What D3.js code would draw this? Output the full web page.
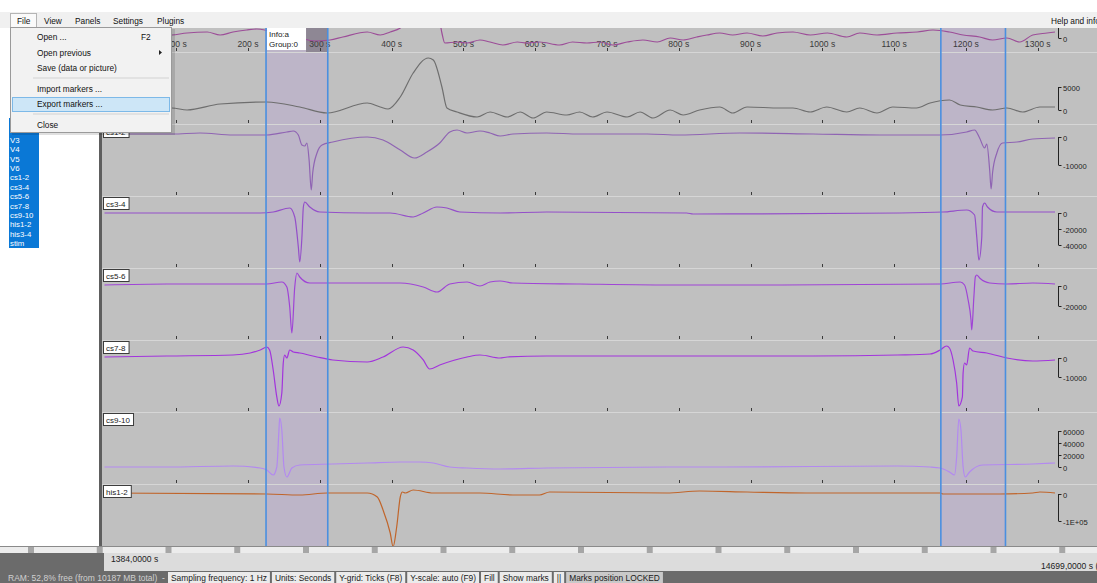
<!DOCTYPE html>
<html>
<head>
<meta charset="utf-8">
<script src="https://cdn.jsdelivr.net/npm/d3@7"></script>
<style>
html, body { margin: 0; padding: 0; background: #fff; overflow: hidden; }
svg { display: block; }
text { font-family: "Liberation Sans", Arial, sans-serif; }
</style>
</head>
<body>
<svg id="chart" width="1097" height="583"></svg>
<script>
// ---------- data: time in seconds, amplitude in channel units ----------
const timeTicks = [100, 200, 300, 400, 500, 600, 700, 800, 900, 1000, 1100, 1200, 1300];
const timeDomain = [0, 1324];
const markerSpans = [[225, 311], [1165, 1255]];
const markerInfo = ["Info:a", "Group:0"];

const channelNames = ["V5", "V6", "cs1-2", "cs3-4", "cs5-6", "cs7-8", "cs9-10", "his1-2"];

const v5 = [[0,600],[35,1000],[63,400],[94,600],[115,1000],[143,1200],[161,600],[179,1200],[198,1600],[212,1800],[230,1400],[251,800],[272,0],[293,-600],[314,-400],[332,200],[366,1200],[384,600],[398,1200],[412,2000],[429,4600],[451,7600],[466,4000],[470,1000],[474,-1000],[491,-800],[505,-1000],[523,-400],[537,-800],[555,-1400],[575,-800],[588,-1000],[606,-800],[634,-1400],[652,-800],[672,-1000],[690,-800],[708,-1400],[728,-800],[750,-400],[770,-800],[788,0],[806,-400],[825,200],[839,600],[857,1000],[875,600],[895,1000],[917,400],[937,1000],[959,1200],[983,600],[1007,1000],[1034,200],[1052,1000],[1076,600],[1104,1000],[1132,1200],[1154,1600],[1177,1200],[1196,600],[1219,200],[1237,-400],[1257,0],[1275,-800],[1293,600],[1313,1000],[1324,1200]];

const v6 = [[0,870],[35,1300],[63,430],[94,430],[115,0],[161,1300],[226,1740],[272,650],[310,-650],[366,1520],[384,650],[395,220],[412,2830],[430,8040],[451,11300],[458,10870],[470,5000],[477,430],[491,-430],[519,-1520],[537,-430],[561,-1520],[579,-430],[597,-1740],[616,-430],[644,-1090],[662,-430],[680,-1520],[700,-430],[728,-1520],[746,-430],[764,-1740],[788,0],[806,-1090],[829,0],[857,650],[875,-650],[895,650],[941,430],[959,430],[983,-430],[1006,650],[1034,-430],[1052,430],[1076,-650],[1098,650],[1131,430],[1150,1520],[1177,2170],[1192,1090],[1215,650],[1237,0],[1257,430],[1279,-430],[1303,650],[1324,650]];

const cs12 = [[0,1070],[95,1070],[133,1430],[179,710],[226,710],[254,1790],[263,2140],[270,710],[275,-2860],[279,-3210],[282,-2140],[285,-8210],[288,-18920],[290,-12850],[296,-5710],[303,-2860],[318,-1790],[366,0],[388,-1070],[412,-4640],[432,-7500],[449,-5360],[467,-2140],[481,1790],[491,2500],[505,1430],[523,2140],[537,1430],[551,360],[569,1070],[616,1430],[662,1070],[756,1070],[801,710],[885,1430],[987,1070],[1080,710],[1164,710],[1201,1790],[1212,2500],[1219,-360],[1226,-3930],[1229,-2500],[1233,-11780],[1235,-18560],[1237,-12850],[1243,-5710],[1251,-2140],[1271,-1790],[1293,-710],[1324,-360]];

const cs34 = [[0,0],[217,0],[235,1250],[258,6250],[265,-5000],[270,-42500],[272,-61250],[275,-30000],[277,7500],[279,13750],[286,7500],[300,1250],[366,0],[398,0],[430,-5000],[444,0],[463,7500],[477,6250],[495,1250],[551,0],[616,1250],[811,0],[820,-1250],[1108,0],[1168,1250],[1201,3750],[1212,-2500],[1215,-30000],[1218,-58750],[1222,-30000],[1223,7500],[1226,12500],[1230,7500],[1243,1250],[1324,1250]];

const cs56 = [[0,1000],[87,2000],[179,2000],[226,2000],[247,4000],[254,-1000],[258,-21000],[261,-47000],[265,-1000],[268,13000],[272,9000],[286,3000],[318,3000],[366,3000],[412,3000],[444,-1000],[463,-6000],[481,2000],[505,4000],[523,0],[537,4000],[551,5000],[569,3000],[662,2000],[801,1000],[941,1000],[1164,2000],[1192,4000],[1198,1000],[1203,-14000],[1207,-34000],[1208,-44000],[1211,-11000],[1213,9000],[1215,11000],[1219,8000],[1233,3000],[1257,2000],[1293,3000],[1324,2000]];

const cs78 = [[0,526],[87,1050],[179,1580],[203,2630],[217,4210],[226,5790],[230,4210],[235,-6310],[240,-20500],[243,-25250],[247,-18410],[249,-2630],[251,1580],[254,0],[258,4210],[263,3160],[272,2630],[296,526],[318,-1050],[366,-2100],[388,526],[416,5790],[430,4210],[444,-1050],[453,-5790],[467,-3680],[505,526],[523,1580],[551,0],[561,526],[616,1050],[801,1050],[987,1050],[1104,1580],[1150,2100],[1164,4210],[1173,6310],[1177,5260],[1182,-1050],[1187,-13150],[1190,-25250],[1195,-20500],[1196,-7890],[1198,-2630],[1201,-3680],[1205,5260],[1210,3680],[1229,2630],[1257,0],[1293,-1580],[1324,-1050]];

const cs910 = [[0,0],[87,0],[179,1670],[217,-1670],[226,-5000],[235,-13340],[240,0],[243,61680],[244,81680],[247,61680],[250,0],[254,-16670],[261,-1670],[272,3330],[318,5000],[366,6670],[412,8330],[439,8330],[458,6670],[481,0],[505,-1670],[551,-3330],[616,-1670],[783,0],[867,0],[1104,1670],[1150,0],[1164,-1670],[1177,-8330],[1184,-13340],[1187,16670],[1190,80000],[1193,61680],[1196,0],[1199,-16670],[1205,-8330],[1223,3330],[1293,5000],[1324,6670]];

const his12 = [[0,3700],[226,0],[272,-3700],[310,3700],[366,3700],[380,-11110],[388,-59260],[398,-144440],[402,-195000],[407,-122220],[412,-11110],[415,7410],[419,3700],[430,14810],[458,3700],[523,3700],[569,-3700],[606,-3700],[620,7410],[783,3700],[829,11110],[895,7410],[978,3700],[1164,3700],[1168,0],[1247,0],[1293,3700],[1303,7410],[1324,3700]];

const traces = [v5, v6, cs12, cs34, cs56, cs78, cs910, his12];

// visible amplitude window of each panel [bottom, top]
const valueRanges = [[-2800,11600],[-3043,12609],[-21063,4641],[-68750,21250],[-54000,18000],[-28404,9468],[-28339,91685],[-229648,37040]];
const scaleTicks = [[0,5000],[0,5000],[0,-10000],[0,-20000,-40000],[0,-20000],[0,-10000],[60000,40000,20000,0],[0,-100000]];
const scaleTickLabels = [["0","5000"],["0","5000"],["0","-10000"],["0","-20000","-40000"],["0","-20000"],["0","-10000"],["60000","40000","20000","0"],["0","-1E+05"]];

const listNames = ["V3","V4","V5","V6","cs1-2","cs3-4","cs5-6","cs7-8","cs9-10","his1-2","his3-4","stim"];
const menuBar = ["File","View","Panels","Settings","Plugins"];
const fileMenu = [
  {label:"Open ...", key:"F2"},
  {label:"Open previous", sub:true},
  {label:"Save (data or picture)"},
  {sep:true},
  {label:"Import markers ..."},
  {label:"Export markers ...", hot:true},
  {sep:true},
  {label:"Close"}
];
const viewStart = "1384,0000 s";
const viewEnd = "14699,0000 s (end)";
const ramText = "RAM: 52,8% free (from 10187 MB total)";
const statusItems = ["Sampling frequency: 1 Hz","Units: Seconds","Y-grid: Ticks (F8)","Y-scale: auto (F9)","Fill","Show marks","||","Marks position LOCKED"];

// ---------- styles ----------
const traceColors = ["#9c4d98","#6e6e6e","#8f64b3","#944fc9","#9f44d6","#a234dc","#b389f0","#c0652b"];

// ---------- layout ----------
const W = 1097, H = 583;
const plot = {left: 102, right: W, top: 28, bottom: 546};
const panelH = 72;
const panelTops = [-20, 52, 124, 196, 268, 340, 412, 484];

const svg = d3.select("#chart");
svg.append("rect").attr("width", W).attr("height", H).attr("fill", "#fff");

const x = d3.scaleLinear().domain(timeDomain).range([104.5, 1055]);

svg.append("defs").append("clipPath").attr("id", "plotClip")
  .append("rect").attr("x", plot.left).attr("y", plot.top)
  .attr("width", plot.right - plot.left).attr("height", plot.bottom - plot.top);

const g = svg.append("g").attr("clip-path", "url(#plotClip)");
g.append("rect").attr("x", plot.left).attr("y", plot.top)
  .attr("width", plot.right - plot.left).attr("height", plot.bottom - plot.top)
  .attr("fill", "#c0c0c0");

// marker spans
g.selectAll("rect.span").data(markerSpans).join("rect").attr("class", "span")
  .attr("x", d => x(d[0])).attr("y", plot.top)
  .attr("width", d => x(d[1]) - x(d[0])).attr("height", plot.bottom - plot.top)
  .attr("fill", "#bdb5c8");
// selected-marker header band
g.append("rect").attr("x", x(markerSpans[0][0]) + 40).attr("y", plot.top)
  .attr("width", x(markerSpans[0][1]) - x(markerSpans[0][0]) - 40).attr("height", 24)
  .attr("fill", "#8e8794");

// panel separators
const seps = panelTops.slice(1);
g.selectAll("line.sep").data(seps).join("line").attr("class", "sep")
  .attr("x1", plot.left).attr("x2", plot.right)
  .attr("y1", d => d + 0.5).attr("y2", d => d + 0.5)
  .attr("stroke", "#d6d6d6").attr("stroke-width", 1);

// time ticks along each panel's bottom edge
seps.forEach(s => {
  g.selectAll(null).data(timeTicks).join("line")
    .attr("x1", d => Math.round(x(d)) + 0.5).attr("x2", d => Math.round(x(d)) + 0.5)
    .attr("y1", s - 4).attr("y2", s - 1)
    .attr("stroke", "#3a3a3a").attr("stroke-width", 1);
});

// time labels in the top panel
g.selectAll("text.tl").data(timeTicks).join("text").attr("class", "tl")
  .attr("x", d => x(d)).attr("y", 47)
  .attr("text-anchor", "middle").attr("font-size", 8.6).attr("fill", "#3a3a3a")
  .text(d => d + " s");

// traces
const yScales = valueRanges.map((r, i) =>
  d3.scaleLinear().domain(r).range([panelTops[i] + panelH, panelTops[i]]));

traces.forEach((tr, i) => {
  const line = d3.line().x(d => x(d[0])).y(d => yScales[i](d[1])).curve(d3.curveMonotoneX);
  g.append("path").datum(tr).attr("d", line)
    .attr("fill", "none").attr("stroke", traceColors[i])
    .attr("stroke-width", 1.2).attr("stroke-linejoin", "round");
});

// marker edges
const edges = markerSpans.flat();
g.selectAll("line.edge").data(edges).join("line").attr("class", "edge")
  .attr("x1", d => x(d)).attr("x2", d => x(d))
  .attr("y1", plot.top).attr("y2", plot.bottom)
  .attr("stroke", "#4a8fe0").attr("stroke-width", 1.6);

// marker info box
const ib = g.append("g");
ib.append("rect").attr("x", x(markerSpans[0][0]) + 1).attr("y", plot.top)
  .attr("width", 39).attr("height", 22).attr("fill", "#fff");
ib.selectAll("text").data(markerInfo).join("text")
  .attr("x", x(markerSpans[0][0]) + 3).attr("y", (d, i) => plot.top + 9 + i * 10)
  .attr("font-family", "'DejaVu Sans Mono', monospace").attr("font-size", 8)
  .attr("fill", "#222").text(d => d);

// panel name boxes
channelNames.forEach((name, i) => {
  const top = panelTops[i];
  if (top < plot.top) return;
  const lg = g.append("g");
  const t = lg.append("text").attr("x", 106).attr("y", top + 10.5)
    .attr("font-size", 8).attr("fill", "#222").text(name);
  const w = t.node().getComputedTextLength();
  lg.insert("rect", "text").attr("x", 103.5).attr("y", top + 1.5)
    .attr("width", w + 6).attr("height", 12)
    .attr("fill", "#fff").attr("stroke", "#3c3c3c").attr("stroke-width", 1);
});

// amplitude scale brackets
const bx = 1058.5;
scaleTicks.forEach((ticks, i) => {
  const y = yScales[i];
  const ys = ticks.map(v => y(v));
  const sg = g.append("g");
  sg.append("line").attr("x1", bx).attr("x2", bx)
    .attr("y1", Math.max(d3.min(ys), plot.top)).attr("y2", d3.max(ys))
    .attr("stroke", "#222").attr("stroke-width", 1);
  ticks.forEach((v, k) => {
    const yy = Math.round(y(v)) + 0.5;
    if (yy < plot.top) return;
    sg.append("line").attr("x1", bx).attr("x2", bx + 3).attr("y1", yy).attr("y2", yy)
      .attr("stroke", "#222").attr("stroke-width", 1);
    sg.append("text").attr("x", bx + 4.5).attr("y", yy + 3)
      .attr("font-size", 7.6).attr("fill", "#222").text(scaleTickLabels[i][k]);
  });
});

// ---------- left channel list ----------
svg.append("rect").attr("x", 0).attr("y", plot.top).attr("width", 99).attr("height", plot.bottom - plot.top).attr("fill", "#fff");
svg.append("rect").attr("x", 99).attr("y", plot.top).attr("width", 3).attr("height", plot.bottom - plot.top).attr("fill", "#5e5e5e");
svg.append("rect").attr("x", 9).attr("y", 118).attr("width", 30).attr("height", 130).attr("fill", "#0a78d6");
svg.selectAll("text.ln").data(listNames).join("text").attr("class", "ln")
  .attr("x", 10).attr("y", (d, i) => 143 + i * 9.36)
  .attr("font-size", 7.8).attr("fill", "#fff").text(d => d);

// ---------- menu bar ----------
svg.append("rect").attr("x", 0).attr("y", 12).attr("width", W).attr("height", 16).attr("fill", "#f0f0f0");
svg.append("rect").attr("x", 10.5).attr("y", 13.5).attr("width", 26).attr("height", 15)
  .attr("fill", "#fafafa").attr("stroke", "#b5b5b5");
const menuX = [17, 44, 75, 113, 157];
svg.selectAll("text.mb").data(menuBar).join("text").attr("class", "mb")
  .attr("x", (d, i) => menuX[i]).attr("y", 24)
  .attr("font-size", 8.3).attr("fill", "#111").text(d => d);
svg.append("text").attr("x", 1051).attr("y", 24).attr("font-size", 8.3).attr("fill", "#111").text("Help and info");

// File drop-down
const dd = svg.append("g");
dd.append("rect").attr("x", 12).attr("y", 29).attr("width", 163).attr("height", 106).attr("fill", "rgba(0,0,0,0.12)");
dd.append("rect").attr("x", 10.5).attr("y", 27.5).attr("width", 161).attr("height", 105)
  .attr("fill", "#f2f2f2").attr("stroke", "#9a9a9a");
let yy = 29;
fileMenu.forEach(item => {
  if (item.sep) {
    dd.append("line").attr("x1", 33).attr("x2", 169).attr("y1", yy + 2.5).attr("y2", yy + 2.5).attr("stroke", "#d2d2d2");
    yy += 5;
    return;
  }
  if (item.hot) {
    dd.append("rect").attr("x", 12.5).attr("y", yy + 1.5).attr("width", 157).attr("height", 14)
      .attr("fill", "#cde6f7").attr("stroke", "#7db9e8");
  }
  dd.append("text").attr("x", 37).attr("y", yy + 11).attr("font-size", 8.3).attr("fill", "#111").text(item.label);
  if (item.key) dd.append("text").attr("x", 141).attr("y", yy + 11).attr("font-size", 8.3).attr("fill", "#111").text(item.key);
  if (item.sub) dd.append("path").attr("d", `M159,${yy + 5.5} L162,${yy + 8} L159,${yy + 10.5} Z`).attr("fill", "#222");
  yy += 15.5;
});

// ---------- bottom bars ----------
svg.append("rect").attr("x", 0).attr("y", plot.bottom).attr("width", W).attr("height", 7).attr("fill", "#ececec");
svg.append("line").attr("x1", 0).attr("x2", W).attr("y1", plot.bottom + 0.5).attr("y2", plot.bottom + 0.5).attr("stroke", "#8a8a8a");
const nubs = d3.range(28, W, 68.75);
svg.selectAll("rect.nub").data(nubs).join("rect").attr("class", "nub")
  .attr("x", d => d).attr("y", plot.bottom + 1).attr("width", 6).attr("height", 6)
  .attr("fill", "#a6a6a6");
svg.append("rect").attr("x", 0).attr("y", 553).attr("width", W).attr("height", 18).attr("fill", "#dcdcdc");
svg.append("rect").attr("x", 0).attr("y", 553).attr("width", 104).attr("height", 18).attr("fill", "#6b6b6b");
svg.append("text").attr("x", 111).attr("y", 562).attr("font-size", 8.6).attr("fill", "#222").text(viewStart);
svg.append("text").attr("x", 1041).attr("y", 569).attr("font-size", 8.6).attr("fill", "#222").text(viewEnd);

const sb = svg.append("g");
sb.append("rect").attr("x", 0).attr("y", 571).attr("width", W).attr("height", 12).attr("fill", "#6b6b6b");
sb.append("text").attr("x", 8).attr("y", 580.5).attr("font-size", 8.5).attr("fill", "#d0d0d0").text(ramText);
sb.append("text").attr("x", 162).attr("y", 580.5).attr("font-size", 8.4).attr("fill", "#e0e0e0").text("-");
let sx = 168;
statusItems.forEach((s, i) => {
  const last = i === statusItems.length - 1;
  const cell = sb.append("g");
  const box = cell.append("rect").attr("x", sx).attr("y", 572).attr("height", 11)
    .attr("fill", last ? "#c9c9c9" : "#ebebeb");
  const t = cell.append("text").attr("x", sx + 3).attr("y", 580.5).attr("font-size", 8.4).attr("fill", "#1a1a1a").text(s);
  const w = t.node().getComputedTextLength();
  box.attr("width", w + 6);
  sx += w + 8;
});
</script>
</body>
</html>
